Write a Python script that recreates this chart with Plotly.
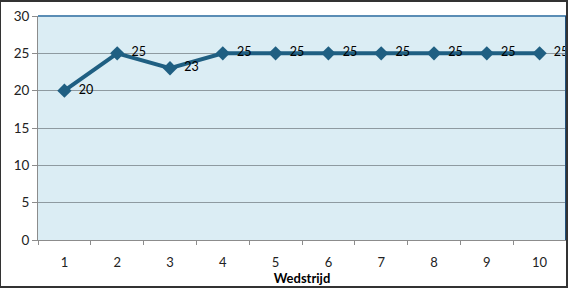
import plotly.graph_objects as go

wedstrijd = [1, 2, 3, 4, 5, 6, 7, 8, 9, 10]
punten = [20, 25, 23, 25, 25, 25, 25, 25, 25, 25]

fig = go.Figure()
fig.add_trace(go.Scatter(
    x=wedstrijd, y=punten, mode="lines+markers+text",
    line=dict(color="#1F5F82", width=4),
    marker=dict(symbol="diamond", size=11, color="#1F5F82"),
    text=[str(v) for v in punten],
    texttemplate="  %{text}",
    textposition="middle right",
    textfont=dict(family="Lato, Open Sans, sans-serif", size=12.5, color="#000000"),
    cliponaxis=False,
    showlegend=False,
))

fig.update_layout(
    width=568, height=288,
    margin=dict(l=38, r=2, t=16, b=48),
    paper_bgcolor="white",
    plot_bgcolor="#DBEDF4",
    font=dict(family="Lato, Open Sans, sans-serif", size=13, color="#222222"),
)
fig.update_xaxes(
    range=[0.5, 10.5],
    tickvals=wedstrijd, ticktext=[str(v) for v in wedstrijd],
    ticks="", showgrid=False,
    ticklabelstandoff=10,
    showline=True, linecolor="#8C8C8C", linewidth=1,
    minor=dict(tick0=0.5, dtick=1, ticks="outside", ticklen=4, tickcolor="#8C8C8C", showgrid=False),
    title=dict(text="<b>Wedstrijd</b>", font=dict(size=13, color="#000000"), standoff=2),
    zeroline=False,
    tickfont=dict(size=13),
)
fig.update_yaxes(
    range=[0, 30], dtick=5,
    ticks="outside", ticklen=5, tickcolor="#8C8C8C",
    showgrid=True, gridcolor="#8E9AA0", gridwidth=1,
    showline=True, linecolor="#8C8C8C", linewidth=1,
    zeroline=False,
    tickfont=dict(size=13.5),
)
# plot area top and right border lines
fig.add_shape(type="line", xref="paper", yref="paper", x0=0, x1=1, y0=1, y1=1,
              line=dict(color="#5A8DB5", width=2))
fig.add_shape(type="line", xref="paper", yref="paper", x0=1, x1=1, y0=0, y1=1,
              line=dict(color="#1F4E79", width=2))
# outer frame
fig.add_shape(type="rect", xref="paper", yref="paper", x0=-38/528, x1=1 + 1/528,
              y0=-47/224, y1=1 + 15/224, line=dict(color="#333333", width=2))

fig.write_html("out.html")
